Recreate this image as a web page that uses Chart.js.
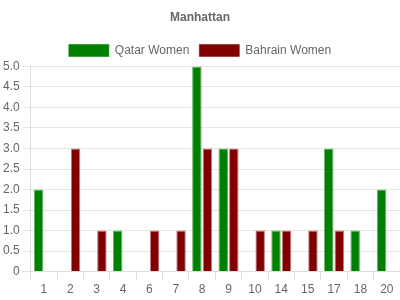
<!DOCTYPE html>
<html>
<head>
<meta charset="utf-8">
<script src="https://cdn.jsdelivr.net/npm/chart.js@4"></script>
<style>
  html, body { margin: 0; padding: 0; background: #fff; }
  #wrap { width: 400px; height: 300px; }
</style>
</head>
<body>
<div id="wrap"><canvas id="barChart"></canvas></div>
<script>
const categories = ['1', '2', '3', '4', '6', '7', '8', '9', '10', '14', '15', '17', '18', '20'];
const qatarWomen = [2, 0, 0, 1, 0, 0, 5, 3, 0, 1, 0, 3, 1, 2];
const bahrainWomen = [0, 3, 1, 0, 1, 1, 3, 3, 1, 1, 1, 1, 0, 0];

Chart.defaults.font.family = '"Liberation Sans", Arial, sans-serif';
Chart.defaults.font.size = 12;
Chart.defaults.color = '#666';

new Chart(document.getElementById('barChart'), {
    type: 'bar',
    data: {
        labels: categories,
        datasets: [
            {
                label: 'Qatar Women',
                data: qatarWomen,
                backgroundColor: 'rgb(0,128,0)',
                borderColor: 'rgba(0,128,0,0.6)',
                borderWidth: 1,
            },
            {
                label: 'Bahrain Women',
                data: bahrainWomen,
                backgroundColor: 'rgb(128,0,0)',
                borderColor: 'rgba(128,0,0,0.5)',
                borderWidth: 1,
            },
        ]
    },
    options: {
        responsive: true,
        maintainAspectRatio: false,
        animation: false,
        plugins: {
            title: {
                display: true,
                text: 'Manhattan',
                font: { size: 12, weight: 'bold' },
                padding: { top: 10, bottom: 10 }
            },
            legend: {
                labels: { boxWidth: 40, boxHeight: 12 }
            },
            tooltip: { enabled: false }
        },
        scales: {
            x: {
                grid: { drawOnChartArea: false, color: '#ddd' },
                border: { color: '#ddd' }
            },
            y: {
                min: 0,
                max: 5,
                ticks: {
                    stepSize: 0.5,
                    callback: v => v === 0 ? '0' : v.toFixed(1)
                },
                grid: { color: '#e5e5e5' },
                border: { color: '#ddd' }
            }
        }
    }
});
</script>
</body>
</html>
